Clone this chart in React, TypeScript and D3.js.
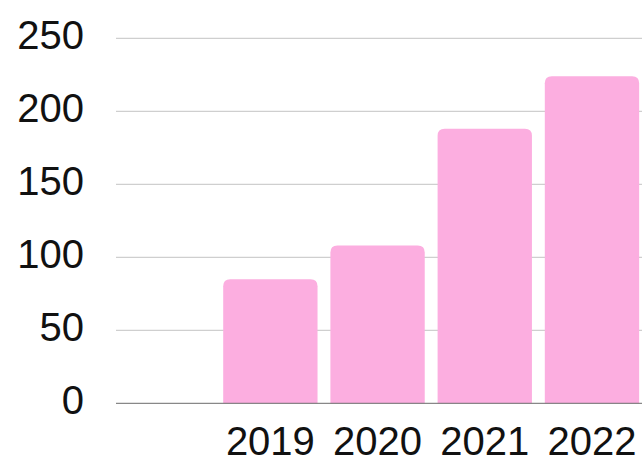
import React from "react";
import * as d3 from "d3";

const categories = ["", "2019", "2020", "2021", "2022"];
const values = [null, 85, 108, 188, 224];
const yTicks = [0, 50, 100, 150, 200, 250];

const W = 642;
const H = 457;
const left = 116;
const right = 652;
const top = 38.3;
const bottom = 403.3;
const barColor = "#fcaee0";
const font = "'Liberation Sans', Arial, sans-serif";

function topRoundedRect(x: number, y: number, w: number, h: number, r: number) {
  const rr = Math.min(r, w / 2, h);
  return `M${x},${y + h}V${y + rr}Q${x},${y} ${x + rr},${y}H${x + w - rr}Q${x + w},${y} ${x + w},${y + rr}V${y + h}Z`;
}

export default function App() {
  const x = d3.scaleBand<string>().domain(categories).range([left, right]).padding(0);
  const y = d3.scaleLinear().domain([0, 250]).range([bottom, top]);
  const bw = x.bandwidth() * 0.88;

  return (
    <svg
      width={W}
      height={H}
      style={{ position: "fixed", left: 0, top: 0, display: "block", background: "#fff" }}
    >
      {yTicks.map((t) => (
        <g key={t}>
          {t !== 0 && (
            <line x1={left} x2={W} y1={y(t)} y2={y(t)} stroke="#c3c3c3" strokeWidth={1} />
          )}
          <text
            x={84}
            y={y(t) + 10.5}
            textAnchor="end"
            fontFamily={font}
            fontSize={40}
            fill="#111"
          >
            {t}
          </text>
        </g>
      ))}
      {categories.map((c, i) => {
        const v = values[i];
        if (v == null) return null;
        const x0 = x(c) as number;
        return (
          <g key={c}>
            <path d={topRoundedRect(x0, y(v), bw, y(0) - y(v), 7)} fill={barColor} />
            <text
              x={x0 + bw / 2}
              y={bottom + 51.7}
              textAnchor="middle"
              fontFamily={font}
              fontSize={40}
              fill="#111"
            >
              {c}
            </text>
          </g>
        );
      })}
      <line x1={left} x2={W} y1={y(0)} y2={y(0)} stroke="#6b6b6b" strokeWidth={1} />
    </svg>
  );
}
